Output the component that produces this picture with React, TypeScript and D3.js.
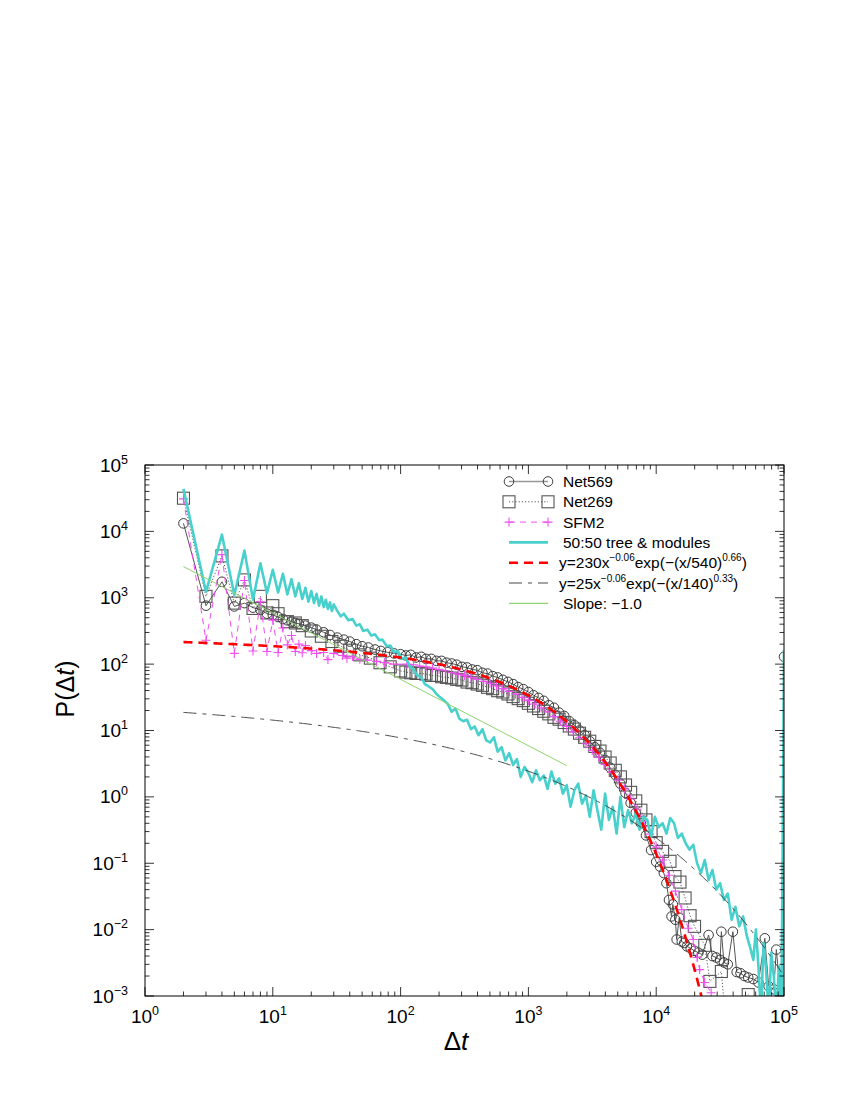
import * as d3 from "d3";

// ── Layout ────────────────────────────────────────────────
const W = 850;
const H = 1100;
const plot = { left: 145, right: 784, top: 465, bottom: 996 };
const FONT = "'Liberation Sans', Arial, Helvetica, sans-serif";

// ── Data ──────────────────────────────────────────────────
type Pt = [number, number];

const NET569: Pt[] = [
  [2, 13200], [3, 760], [4, 1740], [5, 740], [6, 830], [7, 710], [8, 660], [9, 575], [10, 550],
  [11, 513], [12, 479], [13, 457], [14, 437], [15, 417], [16, 407], [18, 380], [20, 355], [22, 331],
  [25, 302], [28, 275], [32, 251], [36, 234], [40, 219], [45, 200], [50, 186], [56, 178], [63, 166],
  [70, 158], [79, 151], [89, 145], [100, 141],
  [110, 135], [120, 138], [132, 126], [145, 129], [158, 120], [174, 120], [191, 112], [209, 112],
  [229, 105], [251, 102], [275, 98], [302, 91], [331, 89], [363, 83], [398, 81], [437, 74], [479, 72],
  [525, 66], [575, 63], [631, 58], [692, 54], [759, 50], [832, 45], [912, 42], [1000, 38], [1096, 34],
  [1202, 31], [1318, 28], [1445, 24], [1585, 22], [1738, 18.6], [1905, 16.6], [2089, 13.8], [2291, 12.0],
  [2512, 10], [2754, 8.5], [3020, 6.9], [3311, 5.6], [3631, 4.6], [3981, 3.6], [4365, 2.75], [4786, 2.14],
  [5248, 1.58], [5754, 1.15], [6310, 0.81], [6918, 0.575], [7586, 0.40], [8318, 0.263], [9120, 0.158],
  [10000, 0.105],
  [10715, 0.089], [11482, 0.071], [12023, 0.05], [12589, 0.028], [13183, 0.0158], [13490, 0.024],
  [14125, 0.0141], [14454, 0.0071], [15136, 0.0151], [15849, 0.0066], [16596, 0.0063], [17378, 0.0056],
  [18621, 0.0052], [19953, 0.0048], [21380, 0.0045], [22909, 0.0042], [25704, 0.0083], [27542, 0.004],
  [29512, 0.0038], [31623, 0.0035], [32359, 0.0093], [33884, 0.0032], [36308, 0.003], [39811, 0.0093],
  [42658, 0.0023], [45709, 0.0022], [48978, 0.002], [52481, 0.0019], [57544, 0.0018], [63096, 0.0016],
  [70795, 0.0074], [75858, 0.0014], [83176, 0.00126], [87096, 0.005], [93325, 0.00117], [97724, 0.0011],
  [100000, 129],
];

const NET269: Pt[] = [
  [2, 31600], [3, 1050], [4, 4270], [5, 830], [6, 1860], [7, 690], [8, 1050], [9, 590], [10, 760],
  [11, 575], [13, 437], [15, 417], [17, 380], [20, 316], [24, 263], [29, 219], [34, 186], [40, 162],
  [48, 138], [58, 123], [69, 105], [83, 91], [100, 79],
  [110, 75.9], [120, 74.1], [132, 72.4], [145, 72.4], [158, 70.8], [174, 67.6], [191, 67.6], [209, 64.6],
  [229, 63.1], [251, 61.7], [275, 58.9], [302, 57.5], [331, 53.7], [363, 52.5], [398, 50.1], [437, 47.9],
  [479, 44.7], [525, 42.7], [575, 39.8], [631, 38.0], [692, 35.5], [759, 32.4], [832, 30.2], [912, 28.2],
  [1000, 25.7], [1096, 23.4], [1202, 21.4], [1318, 19.5], [1445, 17.8], [1585, 15.8], [1738, 14.8],
  [1905, 13.2], [2089, 11.7], [2291, 10.5], [2512, 9.1], [2754, 7.9], [3020, 6.9], [3311, 5.75],
  [3631, 4.9], [3981, 3.98], [4365, 3.24], [4786, 2.51], [5248, 2.0], [5754, 1.51], [6310, 1.17],
  [6918, 0.87], [7586, 0.63], [8318, 0.45], [9120, 0.3], [10000, 0.204],
  [11220, 0.151], [12823, 0.107], [14028, 0.063], [15346, 0.052], [16827, 0.03], [18408, 0.0162],
  [19953, 0.0112], [23988, 0.0058], [26303, 0.00166], [32359, 0.00234], [35481, 0.0003], [52481, 0.00105],
];

const SFM2: Pt[] = [
  [2, 30900], [3, 229], [4, 4470], [5, 145], [6, 1820], [7, 158], [8, 870], [9, 155], [10, 460],
  [11, 150], [12, 350], [13, 195], [14, 270], [15, 155], [16, 200], [17, 148], [18, 190], [20, 160],
  [22, 145], [25, 150], [27, 117], [30, 145], [35, 135], [38, 123], [42, 130], [48, 118], [55, 115],
  [65, 110], [75, 106], [88, 100],
  [112, 100], [126, 97.7], [141, 93.3], [158, 91.2], [178, 87.1], [200, 83.2], [224, 79.4], [251, 74.1],
  [282, 70.8], [316, 67.6], [355, 63.1], [398, 58.9], [447, 55.0], [501, 51.3], [562, 46.8], [631, 42.7],
  [708, 38.9], [794, 35.5], [891, 31.6], [1000, 28.2], [1122, 25.1], [1259, 21.9], [1413, 19.1],
  [1585, 16.2], [1778, 13.8], [1995, 11.5], [2239, 9.55], [2512, 7.76], [2818, 6.31], [3162, 5.01],
  [3548, 3.98], [3981, 3.09], [4467, 2.34], [5012, 1.78], [5623, 1.32], [6310, 0.93], [7079, 0.65],
  [7943, 0.43], [8913, 0.275], [10000, 0.174],
  [11220, 0.112], [12589, 0.066], [14125, 0.038], [15849, 0.02], [17783, 0.0105], [19498, 0.0071],
  [20893, 0.0038], [21878, 0.0025], [23988, 0.0016], [26915, 0.00112],
];

const TREE_MODULES: Pt[] = [
  [2, 43650], [3, 1230], [4, 8910], [5, 1100], [6, 5130], [7, 933], [8, 3310], [9, 1175], [10, 2630],
  [11, 1200], [12, 2290], [13, 1120], [14, 1905], [15, 1047], [16, 1660], [17, 955], [18, 1410],
  [19, 871], [20, 1260], [21, 832], [22, 1150], [23, 759], [24, 1047], [25, 724], [26, 933], [27, 676],
  [28, 851], [29, 631], [30, 794],
  [32, 631], [34, 525], [36, 575], [39, 457], [42, 479], [45, 380], [48, 398], [51, 316], [55, 331],
  [59, 269], [63, 282], [68, 229], [72, 234], [78, 186], [83, 191], [89, 151], [95, 158], [102, 120],
  [110, 126], [117, 95], [126, 83], [135, 68], [145, 63], [155, 50], [166, 46], [178, 42], [191, 35.5],
  [204, 31.6], [219, 28.2], [234, 25.1], [251, 19.1], [269, 21.4], [288, 15.1], [309, 13.8], [331, 14.5],
  [355, 10.5], [380, 11.5], [407, 8.5], [437, 10.5], [468, 7.1], [501, 6.6], [537, 7.9], [575, 4.8],
  [617, 5.6], [661, 3.55], [708, 4.57], [759, 3.02], [813, 3.72], [871, 2.0], [933, 2.82], [1000, 2.29],
  [1072, 1.66], [1148, 2.51], [1230, 1.78], [1318, 2.09], [1413, 1.32], [1514, 2.4], [1622, 1.58],
  [1738, 1.9], [1862, 1.12], [1995, 1.51], [2138, 0.71], [2291, 1.26], [2455, 1.58], [2630, 0.79],
  [2818, 1.05], [3020, 0.5], [3236, 1.26], [3467, 0.63], [3715, 0.32], [3981, 1.12], [4266, 0.45],
  [4571, 0.71], [4898, 0.28], [5248, 1.0], [5623, 0.35], [6026, 0.63], [6457, 0.4], [6918, 0.56],
  [7413, 0.32], [7943, 0.5], [8511, 0.45], [9120, 0.25], [9772, 0.5], [10471, 0.35], [11220, 0.4],
  [12023, 0.28], [12882, 0.48], [13804, 0.4], [14791, 0.24], [15849, 0.28], [16982, 0.2], [18197, 0.16],
  [19498, 0.19], [20893, 0.1], [22387, 0.071], [23988, 0.112], [25704, 0.056], [27542, 0.079],
  [29512, 0.04], [31623, 0.05], [33884, 0.028], [36308, 0.035], [38905, 0.014], [41687, 0.022],
  [44668, 0.0112], [47863, 0.0158], [51286, 0.0079], [54954, 0.005], [57544, 0.0035], [60256, 0.01],
  [63096, 0.0028], [66069, 0.0005], [69183, 0.0063], [72444, 0.0025], [75858, 0.0005], [79433, 0.0045],
  [83176, 0.002], [87096, 0.0005], [91201, 0.0028], [95499, 0.0005], [100000, 160],
];

// fitted functions as given in the key: y = a x^b exp(-(x/c)^d)
const FIT_RED = { a: 230, b: -0.06, c: 540, d: 0.66, xMax: 30000 };
const FIT_BLACK = { a: 25, b: -0.06, c: 140, d: 0.33, xMax: 100000 };

// slope -1 guide line endpoints
const SLOPE_X = [2, 2000];
const SLOPE_Y = [2950, 2.95];

const X_DECADES = [0, 1, 2, 3, 4, 5];
const Y_DECADES = [-3, -2, -1, 0, 1, 2, 3, 4, 5];

// ── Scales ────────────────────────────────────────────────
const x = d3.scaleLog().domain([1, 1e5]).range([plot.left, plot.right]);
const y = d3.scaleLog().domain([1e-3, 1e5]).range([plot.bottom, plot.top]);

const line = d3.line<Pt>().x(d => x(d[0])).y(d => y(d[1]));

function fitCurve(p: typeof FIT_RED): Pt[] {
  return d3.range(Math.log10(2), Math.log10(p.xMax) + 1e-9, 0.01)
    .map(l => Math.pow(10, l))
    .map(v => [v, p.a * Math.pow(v, p.b) * Math.exp(-Math.pow(v / p.c, p.d))] as Pt);
}

const isMajor = (t: number) => Math.abs(Math.log10(t) - Math.round(Math.log10(t))) < 1e-6;
const sup = (k: number) => (k < 0 ? "\u2212" + Math.abs(k) : String(k));

// ── Markers ───────────────────────────────────────────────
const Circle = ({ cx, cy }: { cx: number; cy: number }) => (
  <circle cx={cx} cy={cy} r={4.8} fill="none" stroke="#3a3a3a" strokeWidth={1} />
);
const Square = ({ cx, cy }: { cx: number; cy: number }) => (
  <rect x={cx - 6} y={cy - 6} width={12} height={12} fill="none" stroke="#555" strokeWidth={1.1} />
);
const Plus = ({ cx, cy }: { cx: number; cy: number }) => (
  <path d={`M${cx - 4.5},${cy}H${cx + 4.5}M${cx},${cy - 4.5}V${cy + 4.5}`} stroke="#f050f0" strokeWidth={1.1} />
);

const CYAN = "#48d1cc";
const MAGENTA = "#f050f0";
const GREEN = "#8fd46f";

export default function App() {
  const xTicks = x.ticks();
  const yTicks = y.ticks();
  const redPath = line(fitCurve(FIT_RED)) ?? "";
  const blackPath = line(fitCurve(FIT_BLACK)) ?? "";
  const slope: Pt[] = SLOPE_X.map((v, i) => [v, SLOPE_Y[i]] as Pt);

  const legendX0 = 509;
  const legendX1 = 548;
  const legendText = 563;
  const rowY = (i: number) => 481.5 + i * 20.3;

  return (
    <svg width={W} height={H} viewBox={`0 0 ${W} ${H}`}
      style={{ position: "absolute", left: 0, top: 0, background: "#fff" }}
      fontFamily={FONT}>
      <defs>
        <clipPath id="plotClip">
          <rect x={plot.left} y={plot.top} width={plot.right - plot.left} height={plot.bottom - plot.top} />
        </clipPath>
      </defs>

      {/* ── Series ── */}
      <g clipPath="url(#plotClip)">
        <path d={line(NET569) ?? ""} fill="none" stroke="#555" strokeWidth={1} />
        {NET569.map((d, i) => <Circle key={i} cx={x(d[0])} cy={y(d[1])} />)}

        <path d={line(NET269) ?? ""} fill="none" stroke="#444" strokeWidth={0.9} strokeDasharray="1.2 2" />
        {NET269.map((d, i) => <Square key={i} cx={x(d[0])} cy={y(d[1])} />)}

        <path d={line(SFM2) ?? ""} fill="none" stroke={MAGENTA} strokeWidth={1} strokeDasharray="6 5" />
        {SFM2.map((d, i) => <Plus key={i} cx={x(d[0])} cy={y(d[1])} />)}

        <path d={line(TREE_MODULES) ?? ""} fill="none" stroke={CYAN} strokeWidth={2.6} strokeLinejoin="round" />

        <path d={redPath} fill="none" stroke="#ff0000" strokeWidth={2.6} strokeDasharray="9 6" />
        <path d={blackPath} fill="none" stroke="#333" strokeWidth={0.9} strokeDasharray="13 6 4 6" />
        <path d={line(slope) ?? ""} fill="none" stroke={GREEN} strokeWidth={1} />
      </g>

      {/* ── Frame and ticks ── */}
      <rect x={plot.left} y={plot.top} width={plot.right - plot.left} height={plot.bottom - plot.top}
        fill="none" stroke="#000" strokeWidth={1} />
      {xTicks.map((t, i) => {
        const L = isMajor(t) ? 9 : 4.5;
        const px = x(t);
        return (
          <g key={`xt${i}`} stroke="#000" strokeWidth={0.8}>
            <line x1={px} x2={px} y1={plot.bottom} y2={plot.bottom - L} />
            <line x1={px} x2={px} y1={plot.top} y2={plot.top + L} />
          </g>
        );
      })}
      {yTicks.map((t, i) => {
        const L = isMajor(t) ? 9 : 4.5;
        const py = y(t);
        return (
          <g key={`yt${i}`} stroke="#000" strokeWidth={0.8}>
            <line x1={plot.left} x2={plot.left + L} y1={py} y2={py} />
            <line x1={plot.right} x2={plot.right - L} y1={py} y2={py} />
          </g>
        );
      })}

      {/* ── Tick labels ── */}
      {X_DECADES.map(k => (
        <text key={`xl${k}`} x={x(Math.pow(10, k))} y={1023} textAnchor="middle" fontSize={19} fill="#000">
          10<tspan dy={-8} fontSize={12.5}>{sup(k)}</tspan>
        </text>
      ))}
      {Y_DECADES.map(k => (
        <text key={`yl${k}`} x={128} y={y(Math.pow(10, k)) + 6.5} textAnchor="end" fontSize={19} fill="#000">
          10<tspan dy={-8} fontSize={12.5}>{sup(k)}</tspan>
        </text>
      ))}

      {/* ── Axis titles ── */}
      <text x={456} y={1050} textAnchor="middle" fontSize={26} fill="#000">
        Δ<tspan fontStyle="italic">t</tspan>
      </text>
      <text transform="translate(74, 689) rotate(-90)" textAnchor="middle" fontSize={25} fill="#000">
        P(Δ<tspan fontStyle="italic">t</tspan>)
      </text>

      {/* ── Legend ── */}
      <g fontSize={15.5} fill="#000">
        <line x1={legendX0} x2={legendX1} y1={rowY(0)} y2={rowY(0)} stroke="#999" strokeWidth={1.4} />
        <Circle cx={legendX0} cy={rowY(0)} />
        <Circle cx={legendX1} cy={rowY(0)} />
        <text x={legendText} y={rowY(0) + 5.5}>Net569</text>

        <line x1={legendX0} x2={legendX1} y1={rowY(1)} y2={rowY(1)} stroke="#444" strokeWidth={0.9} strokeDasharray="1.2 2" />
        <Square cx={legendX0} cy={rowY(1)} />
        <Square cx={legendX1} cy={rowY(1)} />
        <text x={legendText} y={rowY(1) + 5.5}>Net269</text>

        <line x1={legendX0} x2={legendX1} y1={rowY(2)} y2={rowY(2)} stroke={MAGENTA} strokeWidth={1} strokeDasharray="6 5" />
        <Plus cx={legendX0} cy={rowY(2)} />
        <Plus cx={legendX1} cy={rowY(2)} />
        <text x={legendText} y={rowY(2) + 5.5}>SFM2</text>

        <line x1={legendX0} x2={legendX1} y1={rowY(3)} y2={rowY(3)} stroke={CYAN} strokeWidth={2.6} />
        <text x={legendText} y={rowY(3) + 5.5}>50:50 tree &amp; modules</text>

        <line x1={legendX0} x2={legendX1} y1={rowY(4)} y2={rowY(4)} stroke="#ff0000" strokeWidth={2.6} strokeDasharray="9 6" />
        <text x={legendText - 4} y={rowY(4) + 5.5}>
          y=230x<tspan dy={-7} fontSize={10}>{"\u22120.06"}</tspan>
          <tspan dy={7}>exp(−(x/540)</tspan>
          <tspan dy={-7} fontSize={10}>0.66</tspan>
          <tspan dy={7}>)</tspan>
        </text>

        <line x1={legendX0} x2={legendX1} y1={rowY(5)} y2={rowY(5)} stroke="#333" strokeWidth={0.9} strokeDasharray="13 6 4 6" />
        <text x={legendText - 4} y={rowY(5) + 5.5}>
          y=25x<tspan dy={-7} fontSize={10}>{"\u22120.06"}</tspan>
          <tspan dy={7}>exp(−(x/140)</tspan>
          <tspan dy={-7} fontSize={10}>0.33</tspan>
          <tspan dy={7}>)</tspan>
        </text>

        <line x1={legendX0} x2={legendX1} y1={rowY(6)} y2={rowY(6)} stroke={GREEN} strokeWidth={1.2} />
        <text x={legendText} y={rowY(6) + 5.5}>Slope: −1.0</text>
      </g>
    </svg>
  );
}
